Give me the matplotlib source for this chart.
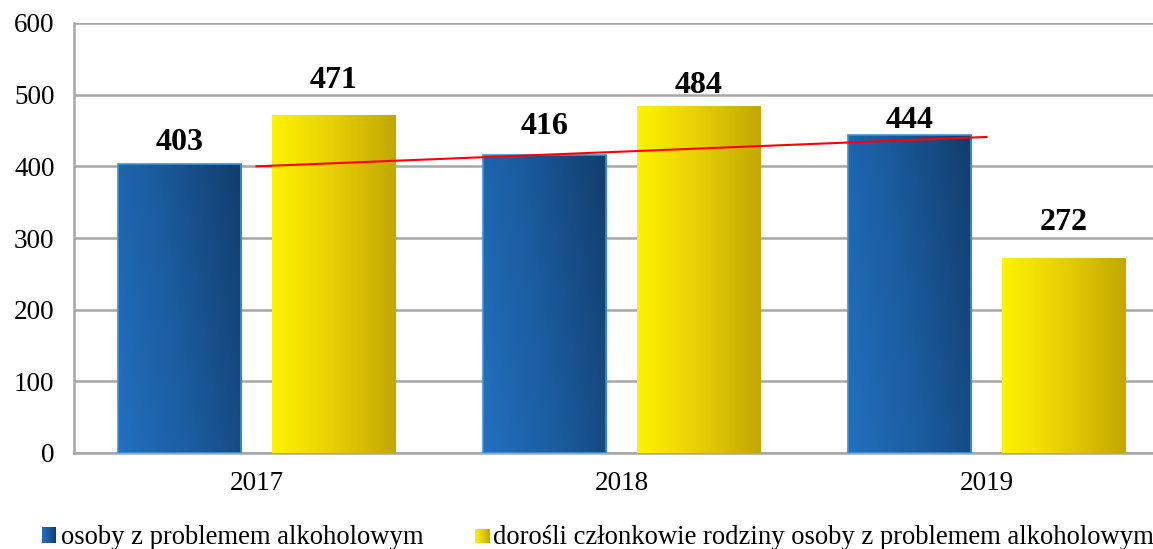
import numpy as np
import matplotlib.pyplot as plt
from matplotlib.colors import LinearSegmentedColormap

#--------------------
# Data
years = ["2017", "2018", "2019"]
alcohol_problem = [403, 416, 444]
family_adults = [471, 484, 272]
trend_values = [400, 441]  # red line, from first to last category
legend_labels = ["osoby z problemem alkoholowym",
                 "dorośli członkowie rodziny osoby z problemem alkoholowym"]

#--------------------
# Style / layout
plt.rcParams['font.family'] = ['Liberation Serif', 'DejaVu Serif']

blue_cmap = LinearSegmentedColormap.from_list("blue", ["#2270bf", "#1a5a9c", "#133d6c"])
yellow_cmap = LinearSegmentedColormap.from_list("yellow", ["#fff200", "#e6cf05", "#c2a800"])
GRID = "#a6a6a6"
# gap (pixels) between bar top and label baseline, as placed in the original
LABEL_GAP_A = [14, 21, 7]
LABEL_GAP_B = [27, 13, 28]


def gradient_fill(ax, bar, cmap, diagonal=0.0):
    """Fill a bar patch with a left-to-right gradient image clipped to it."""
    x, y = bar.get_x(), bar.get_y()
    w, h = bar.get_width(), bar.get_height()
    gx = np.linspace(0, 1, 64)
    gy = np.linspace(0, 1, 64)
    X, Y = np.meshgrid(gx, gy)
    grad = np.clip(X * (1 - diagonal) + Y * diagonal, 0, 1)
    im = ax.imshow(grad, cmap=cmap, extent=[x, x + w, y, y + h], origin="lower",
                   aspect="auto", interpolation="bilinear", zorder=bar.get_zorder())
    im.set_clip_path(bar)


def label_bars(ax, xs, values, gaps):
    for xi, v, g in zip(xs, values, gaps):
        ax.annotate(str(v), (xi, v), xytext=(0, g), textcoords="offset pixels",
                    ha="center", va="baseline", fontsize=23, fontweight="bold",
                    zorder=6)


def main():
    fig = plt.figure(figsize=(11.53, 5.49), dpi=100)
    ax = fig.add_axes([74 / 1153, 1 - 453 / 549, 1095 / 1153, 430 / 549])

    x = np.arange(len(years))
    width = 0.337
    off = 0.21

    bars_a = ax.bar(x - off, alcohol_problem, width, color="none",
                    edgecolor="#3a94d8", linewidth=1.2, zorder=3)
    bars_b = ax.bar(x + off, family_adults, width, color="none",
                    edgecolor="none", zorder=3)
    for b in bars_a:
        gradient_fill(ax, b, blue_cmap, diagonal=0.25)
    for b in bars_b:
        gradient_fill(ax, b, yellow_cmap)
    # redraw edges on top of gradients
    for b in bars_a:
        b.set_zorder(4)

    label_bars(ax, x - off, alcohol_problem, LABEL_GAP_A)
    label_bars(ax, x + off, family_adults, LABEL_GAP_B)

    # red line
    ax.plot([x[0], x[-1]], trend_values, color="#ff0000", linewidth=1.5, zorder=5)

    ax.set_xlim(-0.5, len(years) - 0.5)
    ax.set_ylim(0, 600)
    ax.set_yticks(range(0, 601, 100))
    ax.set_xticks(x)
    ax.set_xticklabels(years)
    ax.tick_params(axis="both", length=0, labelsize=19.5)
    ax.tick_params(axis="x", pad=13)
    ax.tick_params(axis="y", pad=14)
    ax.yaxis.grid(True, color=GRID, linewidth=1.8, zorder=0)
    ax.set_axisbelow(True)
    for s in ["top", "right"]:
        ax.spines[s].set_visible(False)
    for s in ["left", "bottom"]:
        ax.spines[s].set_color(GRID)
        ax.spines[s].set_linewidth(1.8)

    # legend (manual, gradient markers)
    W, H = 1153, 549
    for (px, py, pw, ph), cmap, label, tx in [
        ((42, 527, 14, 16), blue_cmap, legend_labels[0], 61),
        ((475, 529, 15, 14), yellow_cmap, legend_labels[1], 493),
    ]:
        lax = fig.add_axes([px / W, 1 - (py + ph) / H, pw / W, ph / H])
        lax.imshow(np.linspace(0, 1, 32)[None, :], cmap=cmap, aspect="auto",
                   interpolation="bilinear")
        lax.set_axis_off()
        fig.text(tx / W, 1 - 537 / H, label, fontsize=19.2, va="center", ha="left")

    fig.savefig("out.png", dpi=100)


if __name__ == "__main__":
    main()
